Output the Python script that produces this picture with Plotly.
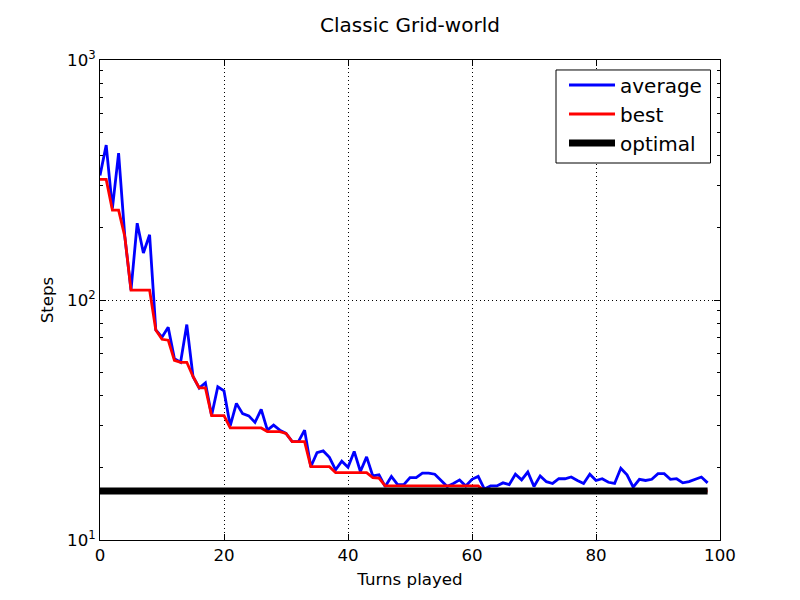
import plotly.graph_objects as go

turns = list(range(99))

average = [330, 442, 241, 409, 184, 110, 209, 157, 187, 75,
           70, 77, 57, 55, 79, 48, 43, 45.2, 33, 43.5,
           41.8, 29.9, 37.1, 33.6, 32.9, 30.9, 35, 28.7, 30.1, 28.7,
           27.8, 25.7, 25.7, 28.7, 20.2, 23.1, 23.5, 22.1, 19.6, 21.3,
           20.1, 23.4, 19.3, 22.2, 18.5, 18.7, 16.7, 18.4, 17.0, 17.0,
           18.2, 18.2, 19.0, 19.0, 18.8, 17.7, 16.7, 17.2, 17.8, 16.8,
           17.9, 18.4, 16.3, 16.8, 16.8, 17.3, 17.0, 18.8, 17.8, 19.2,
           16.7, 18.5, 17.5, 17.2, 18.0, 18.0, 18.3, 17.7, 17.2, 18.8,
           17.7, 18.0, 17.4, 17.2, 19.9, 18.7, 16.6, 17.9, 17.7, 17.9,
           18.9, 18.9, 17.9, 18.0, 17.3, 17.5, 17.9, 18.3, 17.3]

best = [318, 318, 237, 237, 184, 110, 110, 110, 110, 75,
        68.6, 68, 56, 55, 55, 48, 43, 43, 33, 33,
        33, 29.3, 29.3, 29.3, 29.3, 29.3, 29.3, 28.3, 28.3, 28.3,
        27.8, 25.7, 25.7, 25.7, 20.2, 20.2, 20.2, 20.2, 19.1, 19.1,
        19.1, 19.1, 19.1, 19.1, 18.2, 18.1] + [16.8] * 16 + [16] * 37

optimal = [16] * 99

x_ticks = [0, 20, 40, 60, 80, 100]
y_major = [10, 100, 1000]
y_major_text = ["10<sup>1</sup>", "10<sup>2</sup>", "10<sup>3</sup>"]
y_minor = [m * 10 ** e for e in (1, 2) for m in range(2, 10)]

FONT = "DejaVu Sans"
DOTS = "1px,3px"
LABEL_SIZE = 16.67

fig = go.Figure()
fig.add_trace(go.Scatter(x=turns, y=average, mode="lines", name="average",
                         line=dict(color="#0000ff", width=2.8)))
fig.add_trace(go.Scatter(x=turns, y=best, mode="lines", name="best",
                         line=dict(color="#ff0000", width=2.8)))
fig.add_trace(go.Scatter(x=turns, y=optimal, mode="lines", name="optimal",
                         line=dict(color="#000000", width=7), yaxis="y2"))

# legend frame (decoration behind the legend entries)
fig.add_shape(type="rect", xref="paper", yref="paper",
              x0=0.7355, x1=0.9847, y0=0.7854, y1=0.9792,
              fillcolor="white", line=dict(color="black", width=1), layer="above")

fig.update_layout(
    width=800, height=600,
    margin=dict(l=100, r=80, t=60, b=60),
    paper_bgcolor="white", plot_bgcolor="white",
    font=dict(family=FONT, size=LABEL_SIZE, color="black"),
    title=dict(text="Classic Grid-world", x=0.5, xref="paper", y=1 - 25 / 600,
               yref="container", xanchor="center", yanchor="middle",
               font=dict(size=20)),
    showlegend=True,
    legend=dict(x=0.7484, y=0.9885, xanchor="left", yanchor="top",
                borderwidth=0, bgcolor="rgba(0,0,0,0)",
                font=dict(size=20), itemwidth=46),
    xaxis=dict(range=[0, 100], tickvals=x_ticks, ticks="inside", ticklen=6,
               tickcolor="black", showline=True, linecolor="black", linewidth=1,
               mirror="ticks", showgrid=True, gridcolor="black", griddash=DOTS,
               gridwidth=1, zeroline=False, tickfont=dict(size=LABEL_SIZE),
               title=dict(text="Turns played", standoff=9,
                          font=dict(size=LABEL_SIZE))),
    yaxis=dict(type="log", range=[1, 3], tickvals=y_major, ticktext=y_major_text,
               ticks="inside", ticklen=6, tickcolor="black", showline=True,
               linecolor="black", linewidth=1, mirror="ticks", showgrid=True,
               gridcolor="black", griddash=DOTS, gridwidth=1, zeroline=False,
               tickfont=dict(size=LABEL_SIZE),
               title=dict(text="Steps", standoff=9, font=dict(size=LABEL_SIZE))),
    yaxis2=dict(type="log", range=[1, 3], overlaying="y", side="left",
                tickvals=y_minor, ticks="inside", ticklen=3, tickcolor="black",
                showticklabels=False, showgrid=False, showline=False,
                mirror="ticks", zeroline=False),
)

fig.write_html("out.html")
